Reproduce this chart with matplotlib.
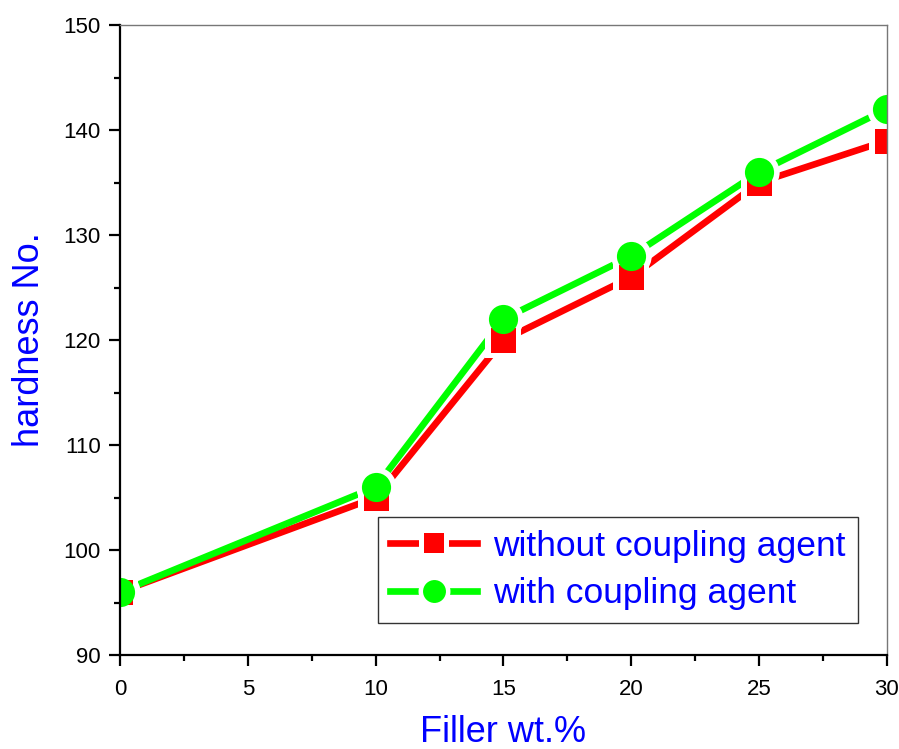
import matplotlib
matplotlib.use('Agg')
import matplotlib.pyplot as plt
from matplotlib.ticker import MultipleLocator
from matplotlib.legend_handler import HandlerTuple
from matplotlib.lines import Line2D

plt.rcParams['font.family'] = ['Liberation Sans', 'DejaVu Sans']

filler = [0, 10, 15, 20, 25, 30]
without_agent = [96, 105, 120, 126, 135, 139]
with_agent = [96, 106, 122, 128, 136, 142]
labels = ['without coupling agent', 'with coupling agent']

red = '#ff0000'
green = '#00ff00'
blue = '#0000ff'

fig = plt.figure(figsize=(8.99, 7.49), dpi=100)
ax = fig.add_axes([0.1335, 0.1255, 0.8531, 0.8411])

lw = 4.8
# lines first, then white halos so lines stop short of the markers
ax.plot(filler, without_agent, color=red, lw=lw, zorder=1)
ax.plot(filler, with_agent, color=green, lw=lw, zorder=1)
ax.plot(filler, without_agent, 's', color='white', ms=26, mew=0, zorder=1.2)
ax.plot(filler, with_agent, 'o', color='white', ms=29, mew=0, zorder=1.2)
ax.plot(filler, without_agent, 's', color=red, ms=18, mew=0, zorder=1.4)
ax.plot(filler, with_agent, 'o', color=green, ms=21, mew=0, zorder=1.6)

ax.set_xlim(0, 30)
ax.set_ylim(90, 150)
ax.xaxis.set_major_locator(MultipleLocator(5))
ax.xaxis.set_minor_locator(MultipleLocator(2.5))
ax.yaxis.set_major_locator(MultipleLocator(10))
ax.yaxis.set_minor_locator(MultipleLocator(5))

for s in ['left', 'bottom']:
    ax.spines[s].set_linewidth(1.6)
    ax.spines[s].set_color('black')
for s in ['top', 'right']:
    ax.spines[s].set_linewidth(1.0)
    ax.spines[s].set_color('#777777')

ax.tick_params(which='major', direction='out', length=8, width=1.6, labelsize=16)
ax.tick_params(which='minor', direction='out', length=4.5, width=1.6)
ax.tick_params(axis='x', which='major', pad=9)
ax.tick_params(axis='y', which='major', pad=6)
ax.tick_params(top=False, right=False, which='both')

ax.set_xlabel('Filler wt.%', fontsize=26, color=blue, labelpad=11)
ax.set_ylabel('hardness No.', fontsize=26, color=blue, labelpad=12)

# legend handles with gaps round the markers
h1 = (Line2D([], [], color=red, lw=lw),
      Line2D([], [], marker='s', ls='none', color='white', ms=21, mew=0),
      Line2D([], [], marker='s', ls='none', color=red, ms=14.5, mew=0))
h2 = (Line2D([], [], color=green, lw=lw),
      Line2D([], [], marker='o', ls='none', color='white', ms=23, mew=0),
      Line2D([], [], marker='o', ls='none', color=green, ms=16.5, mew=0))
leg = ax.legend([h1, h2], labels, handler_map={tuple: HandlerTuple(ndivide=1)},
                loc='lower right', bbox_to_anchor=(0.962, 0.051),
                fontsize=25.5, frameon=True, fancybox=False, edgecolor='black',
                handlelength=2.45, handletextpad=0.45, labelspacing=0.42,
                borderpad=0.35, borderaxespad=0)
leg.get_frame().set_linewidth(1.0)
for t in leg.get_texts():
    t.set_color(blue)

fig.savefig('out.png', dpi=100)
